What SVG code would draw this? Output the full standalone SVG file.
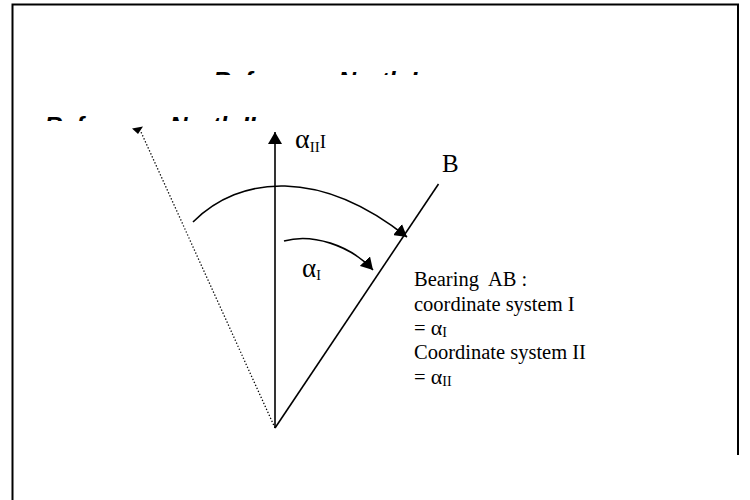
<svg xmlns="http://www.w3.org/2000/svg" width="750" height="500" viewBox="0 0 750 500">
<style>
.ln{fill:none;stroke:#000;stroke-width:1.6}
.dot{fill:none;stroke:#000;stroke-width:1.3;stroke-dasharray:1.3 2}
.t{font-family:"Liberation Serif","Times New Roman",serif;fill:#000}
.d{font-size:20.5px}
.h{font-family:"Liberation Sans",Arial,sans-serif;font-weight:bold;font-style:italic;font-size:24.5px;fill:#000}
</style>
<defs>
<marker id="ah" markerUnits="userSpaceOnUse" markerWidth="14" markerHeight="14" refX="12" refY="7" orient="auto" viewBox="0 0 14 14">
<path d="M0,0 L12,7 L0,14 z" fill="#000"/>
</marker>
<clipPath id="c1"><rect x="0" y="70.5" width="750" height="4.5"/></clipPath>
<clipPath id="c2"><rect x="0" y="116" width="750" height="5"/></clipPath>
</defs>
<g id="frame">
<path d="M12.5,500 V4.5 H738 V455" fill="none" stroke="#000" stroke-width="2"/>
</g>
<g id="labels-north">
<text class="h" x="213" y="89" clip-path="url(#c1)">Reference North I</text>
<text class="h" x="44.5" y="134.3" clip-path="url(#c2)">Reference North II</text>
</g>
<g id="connectors">
<line class="ln" x1="275" y1="428" x2="275" y2="132" marker-end="url(#ah)"/>
<line class="ln" x1="275" y1="428" x2="438.5" y2="184"/>
<path class="dot" d="M275,428 L141,132"/>
<path d="M132,128.5 L143,126.5 L138,134 z" fill="#000"/>
<path class="ln" d="M193,222 C240,175 320,168 407,237" marker-end="url(#ah)"/>
<path class="ln" d="M284,241 C312,233 350,245 373,270" marker-end="url(#ah)"/>
</g>
<g id="label-alpha2">
<text class="t" x="295" y="148"><tspan font-size="28">α</tspan><tspan font-size="15" dy="4">II</tspan><tspan font-size="19" dy="-4">I</tspan></text>
</g>
<g id="label-B">
<text class="t" x="442" y="172" font-size="25">B</text>
</g>
<g id="label-alpha1">
<text class="t" x="302" y="277"><tspan font-size="27">α</tspan><tspan font-size="14" dy="3">I</tspan></text>
</g>
<g id="desc">
<text class="t d" x="414" y="286" xml:space="preserve">Bearing  AB :</text>
<text class="t d" x="414" y="310.5">coordinate system I</text>
<text class="t" x="414" y="335"><tspan font-size="20.5">= </tspan><tspan font-size="22">α</tspan><tspan font-size="14" dy="2">I</tspan></text>
<text class="t d" x="414" y="359">Coordinate system II</text>
<text class="t" x="414" y="383.5"><tspan font-size="20.5">= </tspan><tspan font-size="22">α</tspan><tspan font-size="14" dy="2">II</tspan></text>
</g>
</svg>
